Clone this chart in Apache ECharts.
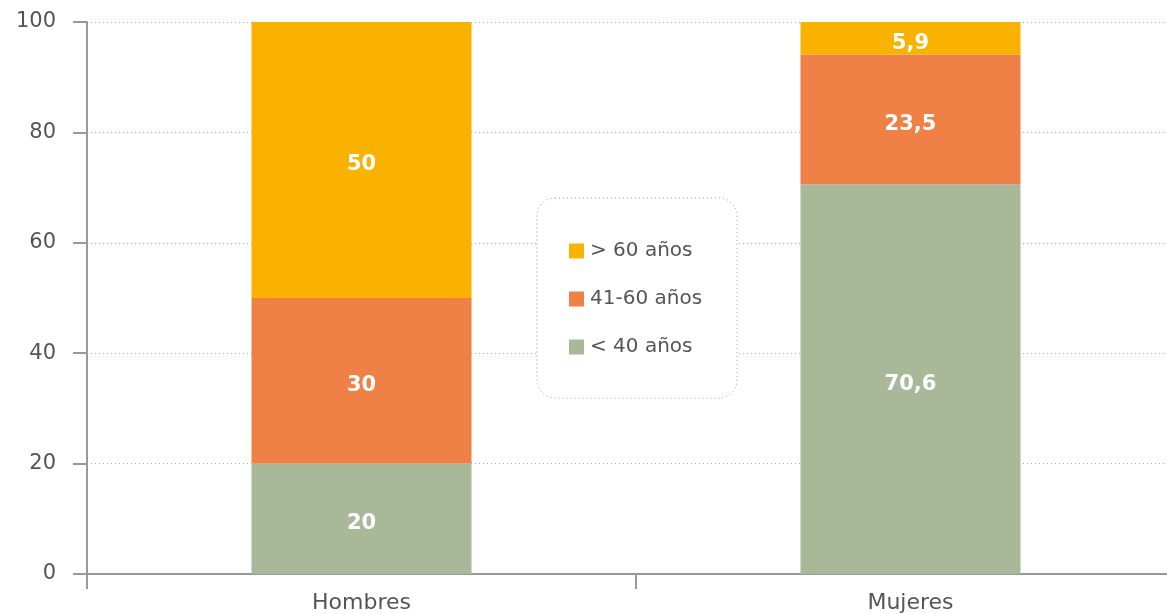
<!DOCTYPE html>
<html>
<head>
<meta charset="utf-8">
<script src="https://cdn.jsdelivr.net/npm/echarts@6/dist/echarts.min.js"></script>
<style>html,body{margin:0;padding:0;background:#fff;overflow:hidden;width:1167px;height:614px;}#c{width:1185px;height:614px;}</style>
</head>
<body>
<div id="c"></div>
<script>
var categories = ['Hombres', 'Mujeres'];
var seriesNames = ['< 40 años', '41-60 años', '> 60 años'];
var under40 = [20, 70.6];
var from41to60 = [30, 23.5];
var over60 = [50, 5.9];
var yTicks = [0, 20, 40, 60, 80, 100];

var colors = ['#a9b899', '#f08146', '#f9b200'];
var FONT = 'DejaVu Sans';
var values = [under40, from41to60, over60];

var chart = echarts.init(document.getElementById('c'));
var series = seriesNames.map(function (n, i) {
  return {
    name: n,
    type: 'bar',
    stack: 'total',
    barWidth: 220,
    data: values[i],
    itemStyle: { color: colors[i] },
    label: {
      show: true,
      position: 'inside',
      offset: [0, 5],
      color: '#fff',
      fontWeight: 'bold',
      fontSize: 21,
      fontFamily: FONT,
      formatter: function (p) { return String(p.value).replace('.', ','); }
    }
  };
});
chart.setOption({
  animation: false,
  textStyle: { fontFamily: FONT },
  grid: { left: 87, top: 22, bottom: 39, right: 0 },
  legend: {
    orient: 'vertical',
    left: 537,
    top: 198,
    data: ['> 60 años', '41-60 años', '< 40 años'],
    icon: 'rect',
    itemWidth: 15,
    itemHeight: 15,
    itemGap: 28,
    padding: [43, 35, 41, 32],
    backgroundColor: '#fff',
    borderColor: '#999',
    borderWidth: 1,
    borderType: [1, 3],
    borderRadius: 18,
    textStyle: { color: '#555', fontSize: 20, fontFamily: FONT, padding: [0, 0, 0, 1] }
  },
  xAxis: {
    type: 'category',
    data: categories,
    axisLine: { lineStyle: { color: '#999', width: 2 } },
    axisTick: { show: true, length: 15, lineStyle: { color: '#999', width: 2 } },
    axisLabel: { color: '#555', fontSize: 22, fontFamily: FONT, margin: 18 }
  },
  yAxis: {
    type: 'value',
    min: yTicks[0],
    max: yTicks[yTicks.length - 1],
    interval: 20,
    axisLine: { show: true, lineStyle: { color: '#999', width: 2 } },
    axisTick: { show: true, length: 14, lineStyle: { color: '#999', width: 2 } },
    axisLabel: { color: '#555', fontSize: 21, fontFamily: FONT, margin: 31 },
    splitLine: { lineStyle: { color: '#aaa', type: [1, 3], width: 1 } }
  },
  series: series
});
</script>
</body>
</html>
